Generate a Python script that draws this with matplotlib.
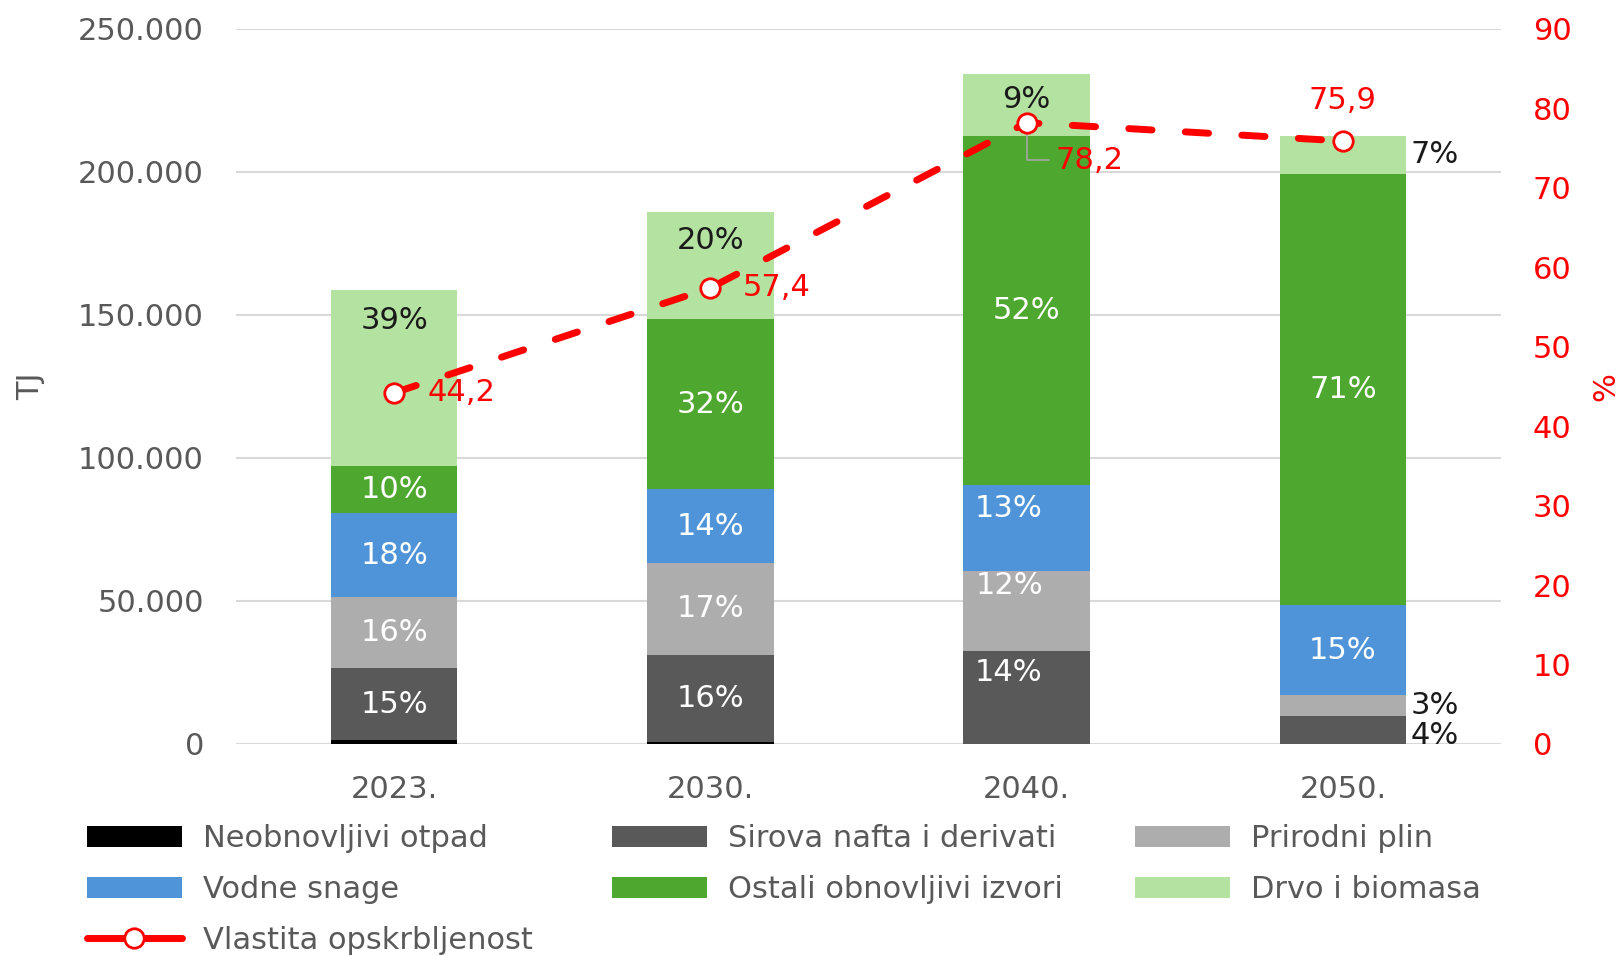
import matplotlib.pyplot as plt
import numpy as np
from matplotlib.lines import Line2D
from matplotlib.patches import Patch
from matplotlib.ticker import FuncFormatter

plt.rcParams['font.family'] = ['DejaVu Sans']

years = ["2023.", "2030.", "2040.", "2050."]

# TJ po izvorima (procjena s grafa)
neobnovljivi_otpad = [1500, 700, 0, 0]
sirova_nafta = [24900, 30400, 32600, 9800]
prirodni_plin = [25000, 32200, 27800, 7200]
vodne_snage = [29300, 25700, 30000, 31500]
ostali_obnovljivi = [16600, 59700, 122300, 150900]
drvo_biomasa = [61500, 37300, 21400, 13300]

# udjeli (oznake s grafa)
pct_otpad = [None, None, None, None]
pct_nafta = ["15%", "16%", "14%", "4%"]
pct_plin = ["16%", "17%", "12%", "3%"]
pct_vodne = ["18%", "14%", "13%", "15%"]
pct_ostali = ["10%", "32%", "52%", "71%"]
pct_drvo = ["39%", "20%", "9%", "7%"]

vlastita = [44.2, 57.4, 78.2, 75.9]

series = [
    ("Neobnovljivi otpad", neobnovljivi_otpad, pct_otpad, "#000000", "white"),
    ("Sirova nafta i derivati", sirova_nafta, pct_nafta, "#595959", "white"),
    ("Prirodni plin", prirodni_plin, pct_plin, "#ADADAD", "white"),
    ("Vodne snage", vodne_snage, pct_vodne, "#4F94D8", "white"),
    ("Ostali obnovljivi izvori", ostali_obnovljivi, pct_ostali, "#4EA72E", "white"),
    ("Drvo i biomasa", drvo_biomasa, pct_drvo, "#B3E2A1", "#1A1A1A"),
]

FS = 22

# pomaci oznaka (tocke) i oznake izvan stupca
label_shift = {
    (5, 0): (0, 41), (5, 1): (0, 18), (5, 2): (0, 4),
    (3, 2): (-13, 14), (2, 2): (-12, 18), (1, 2): (-13, 18),
}
outside = {(5, 3), (2, 3), (1, 3)}

fig = plt.figure(figsize=(16.23, 9.56), dpi=100)
ax = fig.add_axes([0.1454, 0.2218, 0.7794, 0.7479])
x = np.arange(len(years))
width = 0.4
bottom = np.zeros(len(years))
for si, (name, vals, pcts, col, tcol) in enumerate(series):
    vals = np.array(vals, dtype=float)
    ax.bar(x, vals, width, bottom=bottom, color=col, label=name, zorder=2)
    for i in range(len(years)):
        if pcts[i] is None:
            continue
        yc = bottom[i] + vals[i] / 2
        if (si, i) in outside:
            dy = -4 if si == 1 else 0
            ax.annotate(pcts[i], (x[i] + width / 2, yc), xytext=(3, dy),
                        textcoords="offset points", ha="left", va="center",
                        fontsize=FS, color="#1A1A1A")
        else:
            dx, dy = label_shift.get((si, i), (0, 0))
            ax.annotate(pcts[i], (x[i], yc), xytext=(dx, dy),
                        textcoords="offset points", ha="center", va="center",
                        fontsize=FS, color=tcol)
    bottom += vals

ax.set_xlim(-0.5, 3.5)
ax.set_ylim(0, 250000)
ax.set_yticks(np.arange(0, 250001, 50000))
ax.yaxis.set_major_formatter(FuncFormatter(lambda v, p: f"{int(v):,}".replace(",", ".")))
ax.set_xticks(x)
ax.set_xticklabels(years)
ax.grid(axis="y", color="#D9D9D9", linewidth=1.5, zorder=0)
ax.set_axisbelow(True)
for s in ax.spines.values():
    s.set_visible(False)
ax.tick_params(axis="both", length=0, labelsize=FS, labelcolor="#595959")
ax.tick_params(axis="y", pad=23)
ax.tick_params(axis="x", pad=22)
ax.set_ylabel("TJ", fontsize=FS, color="#595959", labelpad=24)

ax2 = ax.twinx()
ax2.set_ylim(0, 90)
ax2.set_yticks(np.arange(0, 91, 10))
for s in ax2.spines.values():
    s.set_visible(False)
ax2.tick_params(axis="y", length=0, labelsize=FS, labelcolor="#FF0000", pad=23)
ax2.set_ylabel("%", fontsize=FS, color="#FF0000", labelpad=14)

ax2.plot(x, vlastita, color="#FF0000", lw=5, dashes=(3.35, 4.8),
         dash_capstyle="round", marker="o", markersize=14,
         markerfacecolor="white", markeredgecolor="#FF0000",
         markeredgewidth=2, zorder=5)

lbl = [f"{v:.1f}".replace(".", ",") for v in vlastita]
ax2.annotate(lbl[0], (x[0], vlastita[0]), xytext=(24, 0), textcoords="offset points",
             ha="left", va="center", fontsize=FS, color="#FF0000")
ax2.annotate(lbl[1], (x[1], vlastita[1]), xytext=(23, 0), textcoords="offset points",
             ha="left", va="center", fontsize=FS, color="#FF0000")
ax2.annotate(lbl[2], (x[2], vlastita[2]), xytext=(21, -27), textcoords="offset points",
             ha="left", va="center", fontsize=FS, color="#FF0000",
             arrowprops=dict(arrowstyle="-", color="#A6A6A6", lw=1.2,
                             connectionstyle="angle,angleA=0,angleB=90,rad=0",
                             shrinkA=3, shrinkB=8))
ax2.annotate(lbl[3], (x[3], vlastita[3]), xytext=(0, 29), textcoords="offset points",
             ha="center", va="center", fontsize=FS, color="#FF0000")

# legenda u tri stupca
h = {name: Patch(facecolor=col) for name, _, _, col, _ in series}
h["Vlastita opskrbljenost"] = Line2D([], [], color="#FF0000", lw=5,
                                     solid_capstyle="round", marker="o",
                                     markersize=14, markerfacecolor="white",
                                     markeredgecolor="#FF0000", markeredgewidth=2)
columns = [
    (0.0536, ["Neobnovljivi otpad", "Vodne snage", "Vlastita opskrbljenost"]),
    (0.3771, ["Sirova nafta i derivati", "Ostali obnovljivi izvori"]),
    (0.6993, ["Prirodni plin", "Drvo i biomasa"]),
]
for xpos, names in columns:
    leg = fig.legend([h[n] for n in names], names, loc="upper left",
                     bbox_to_anchor=(xpos, 0.138), frameon=False, fontsize=FS,
                     handlelength=3.1, handleheight=0.69, handletextpad=0.69,
                     labelspacing=0.72, borderpad=0, borderaxespad=0)
    for t in leg.get_texts():
        t.set_color("#595959")

fig.savefig("out.png", dpi=100)
